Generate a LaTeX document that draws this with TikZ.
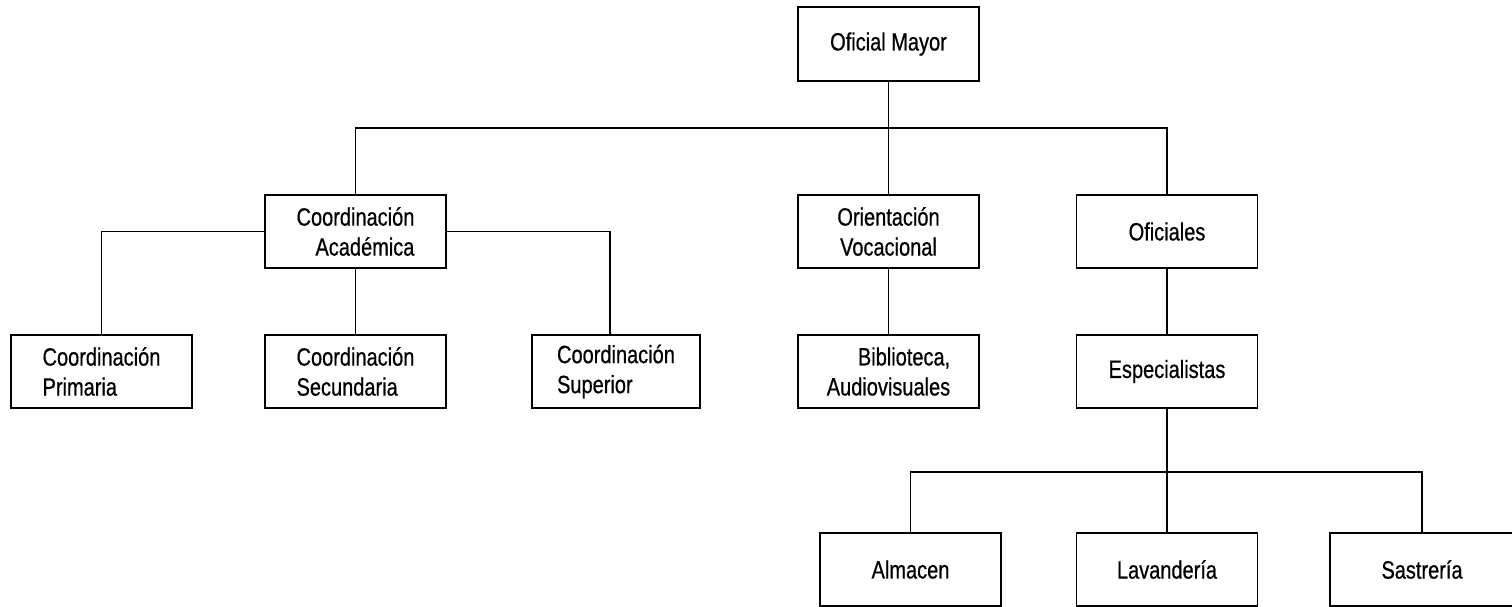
\documentclass[tikz,border=0pt]{standalone}
\usepackage{fontspec}
\setmainfont{Liberation Sans}[FakeStretch=0.80, FakeBold=0.6]
\usetikzlibrary{positioning}

\begin{document}
\begin{tikzpicture}[
	x=1pt, y=-1pt,
	box/.style={rectangle, draw=black, line width=1.8pt, minimum width=181pt,
		minimum height=73pt, inner sep=0pt, align=center,
		font=\fontsize{25}{30}\selectfont},
	link/.style={draw=black, line width=1.2pt}
	]
	\useasboundingbox (0,0) rectangle (1512,607);
	\node[box, minimum height=74pt] (mayor) at (888.5,44) {Oficial Mayor};
	\node[box, align=right] (acad) at (355.5,231.5) {Coordinación\\Académica};
	\node[box] (orient) at (888.5,231.5) {Orientación\\Vocacional};
	\node[box] (ofic) at (1167,231.5) {Oficiales};
	\node[box, align=left] (prim) at (101.5,371.5) {Coordinación\\Primaria};
	\node[box, align=left] (secu) at (355.5,371.5) {Coordinación\\Secundaria};
	\node[box, align=left, minimum width=168pt] (supe) at (616,371.5) {Coordinación\\Superior};
	\node[box, align=right] (biblio) at (888.5,371.5) {Biblioteca,\\Audiovisuales};
	\node[box] (espec) at (1167,371.5) {Especialistas};
	\node[box] (almac) at (910.5,569.5) {Almacen};
	\node[box] (lavan) at (1167,569.5) {Lavandería};
	\node[box, minimum width=184pt] (sastr) at (1422,569.5) {Sastrería};
	\coordinate (topbus) at (888.5,128);
	\coordinate (lowbus) at (1167,472);
	\draw[link] (mayor) -- (orient);
	\draw[link] (acad.north) |- (topbus) -| (ofic.north);
	\draw[link] (acad.west) -| (prim.north);
	\draw[link] (acad.east) -| ([xshift=-6pt]supe.north);
	\draw[link] (acad) -- (secu);
	\draw[link] (orient) -- (biblio);
	\draw[link] (ofic) -- (espec);
	\draw[link] (espec) -- (lavan);
	\draw[link] (almac.north) |- (lowbus) -| (sastr.north);
\end{tikzpicture}
\end{document}
